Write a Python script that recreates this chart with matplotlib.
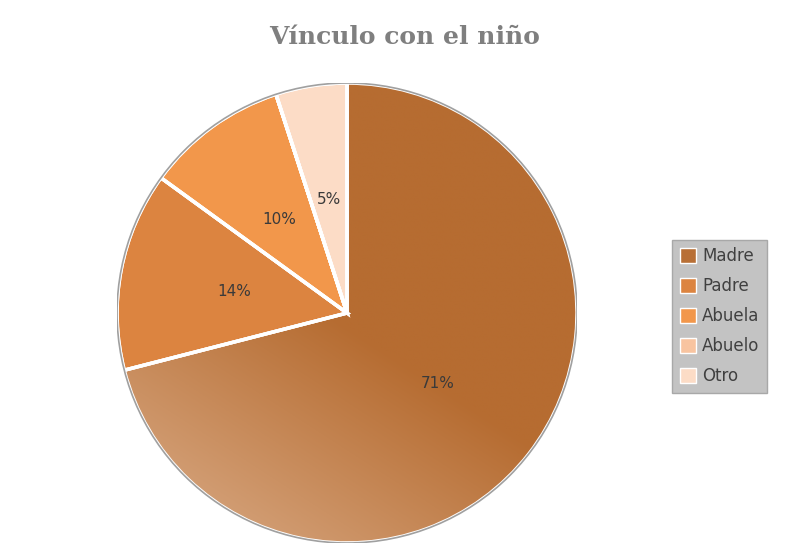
import numpy as np
import matplotlib.pyplot as plt

# data
categories = ['Madre', 'Padre', 'Abuela', 'Abuelo', 'Otro']
values = [71, 14, 10, 0, 5]
colors = ['#b86f35', '#dc8440', '#f2974b', '#f8c4a0', '#fcdcc6']

fig = plt.figure(figsize=(7.88, 5.43), dpi=100)
ax = fig.add_axes([0.1485, 0.0, 0.5838, 0.8471])

def pct(p):
    return '%d%%' % round(p) if p > 0.5 else ''

wedges, texts, autotexts = ax.pie(values, colors=colors, startangle=90, counterclock=False,
                                  autopct=pct, pctdistance=0.5, radius=1.0,
                                  wedgeprops=dict(edgecolor='white', linewidth=2.5),
                                  textprops=dict(fontsize=11, color='#3a3a3a'))

# gradient on the big slice (lighter towards lower left)
xx, yy = np.meshgrid(np.linspace(-1, 1, 300), np.linspace(-1, 1, 300))
t = np.clip(-xx * 0.55 - yy * 0.85 - 0.05, 0, 1.2) / 1.2
c0 = np.array([0xb6, 0x6c, 0x31]) / 255
c1 = np.array([0xd8, 0xa8, 0x82]) / 255
img = c0[None, None, :] * (1 - t[..., None]) + c1[None, None, :] * t[..., None]
im = ax.imshow(img, extent=(-1, 1, -1, 1), origin='lower', zorder=1.5)
im.set_clip_path(wedges[0])
wedges[0].set_zorder(1)
for w in wedges[1:]:
    w.set_zorder(2)
edge = plt.Circle((0, 0), 1.0, fill=False, edgecolor='#a0a0a0', linewidth=1.2, zorder=3)
ax.add_patch(edge)
# redraw white separators on top of gradient
for w in wedges:
    w2 = plt.matplotlib.patches.Wedge((0, 0), 1.0, w.theta1, w.theta2, fill=False,
                                      edgecolor='white', linewidth=2.5, zorder=2.5)
    ax.add_patch(w2)
for a in autotexts:
    a.set_zorder(4)

ax.set_xlim(-1, 1)
ax.set_ylim(-1, 1)
ax.set_aspect('equal')
ax.axis('off')

fig.text(0.514, 0.932, 'Vínculo con el niño', ha='center', va='center', fontsize=18,
         fontweight='heavy', color='#7f7f7f', family='DejaVu Serif')

leg = fig.legend(wedges, categories, loc='center left', bbox_to_anchor=(0.853, 0.418),
                 frameon=True, fontsize=12, handlelength=1.0, handleheight=1.0,
                 handletextpad=0.35, labelspacing=0.72, borderpad=0.45, borderaxespad=0)
leg.get_frame().set_facecolor('#c3c3c3')
leg.get_frame().set_edgecolor('#a8a8a8')
leg.get_frame().set_alpha(1)
leg.get_frame().set_boxstyle('square', pad=0)
for txt in leg.get_texts():
    txt.set_color('#404040')
for h in leg.legend_handles:
    h.set_edgecolor('white')
    h.set_linewidth(1.0)

fig.savefig('out.png', dpi=100)
